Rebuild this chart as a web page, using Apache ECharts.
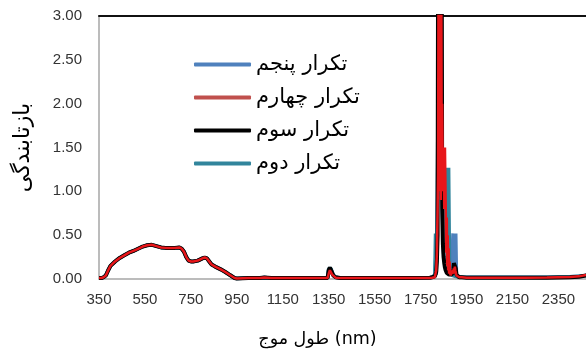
<!DOCTYPE html>
<html>
<head>
<meta charset="utf-8">
<script src="https://cdn.jsdelivr.net/npm/echarts@6/dist/echarts.min.js"></script>
<style>html,body{margin:0;padding:0;background:#fff}#c{width:586px;height:354px}</style>
</head>
<body>
<div id="c"></div>
<script>
// wavelength (nm)
const wavelengths = [
  350,360,370,380,390,400,420,440,460,480,500,520,540,560,580,600,620,640,660,680,
  700,710,720,730,740,750,760,780,800,810,820,830,840,850,860,880,900,920,940,950,
  1000,1050,1070,1100,1200,1300,1345,1350,1355,1360,1365,1370,1380,1400,1500,1600,1700,1790,1800,1806,
  1812,1815,1818,1821,1824,1826,1828,1830,1832,1834,1836,1838,1840,1842,1844,1847,1850,1853,1856,1859,
  1862,1864,1866,1868,1870,1872,1874,1876,1880,1885,1888,1891,1893,1895,1897,1899,1901,1903,1906,1910,
  1918,1930,
  1950,2000,2100,2200,2300,2400,2440,2470,2500
];
const xTicks = [350,550,750,950,1150,1350,1550,1750,1950,2150,2350];
const yTicks = [0,0.5,1,1.5,2,2.5,3];
const seriesNames = ['تکرار پنجم','تکرار چهارم','تکرار سوم','تکرار دوم'];

// تکرار پنجم (blue)
const rep5 = [
  0.01,0.01,0.02,0.045,0.1,0.15,0.2,0.24,0.27,0.3,0.32,0.345,0.37,0.385,0.39,0.375,0.36,0.355,0.355,0.355,
  0.36,0.345,0.31,0.25,0.21,0.2,0.2,0.21,0.235,0.245,0.235,0.2,0.165,0.15,0.135,0.11,0.08,0.045,0.012,0.006,
  0.01,0.012,0.018,0.012,0.01,0.01,0.012,0.11,0.13,0.115,0.07,0.04,0.02,0.012,0.01,0.01,0.012,0.015,0.02,0.025,
  0.03,0.2,0.4,0.5,1.0,2.0,2.0,2.0,2.0,2.0,2.0,2.0,2.0,2.0,2.0,0.5,0.3,0.2,0.2,0.2,
  0.2,0.2,0.2,0.2,0.2,0.2,0.2,0.2,0.1,0.06,0.05,0.52,0.05,0.52,0.05,0.52,0.05,0.52,0.04,0.03,
  0.025,0.02,
  0.02,0.02,0.02,0.02,0.02,0.025,0.03,0.04,0.05
];
// تکرار چهارم (red)
const rep4 = [
  0.01,0.01,0.02,0.04,0.1,0.15,0.2,0.24,0.27,0.3,0.32,0.345,0.37,0.385,0.39,0.375,0.36,0.355,0.355,0.355,
  0.36,0.345,0.31,0.25,0.21,0.2,0.2,0.21,0.235,0.245,0.235,0.2,0.165,0.15,0.135,0.11,0.08,0.045,0.012,0.005,
  0.01,0.012,0.016,0.012,0.01,0.01,0.01,0.06,0.1,0.09,0.05,0.03,0.015,0.01,0.01,0.01,0.01,0.012,0.015,0.02,
  0.02,0.04,0.1,0.3,0.8,1.2,3.5,1.0,3.5,1.3,3.5,0.9,3.5,1.2,2.0,1.0,1.5,0.8,1.5,1.5,
  0.3,0.7,0.15,0.5,0.1,0.35,0.06,0.2,0.04,0.04,0.06,0.1,0.06,0.12,0.08,0.14,0.1,0.08,0.04,0.03,
  0.02,0.02,
  0.015,0.015,0.015,0.015,0.018,0.022,0.03,0.045,0.055
];
// تکرار سوم (black)
const rep3 = [
  0.01,0.01,0.02,0.04,0.1,0.15,0.2,0.24,0.27,0.3,0.32,0.345,0.37,0.385,0.39,0.375,0.36,0.355,0.355,0.355,
  0.36,0.345,0.31,0.25,0.21,0.2,0.2,0.21,0.235,0.245,0.235,0.2,0.165,0.15,0.135,0.11,0.08,0.045,0.012,0.005,
  0.01,0.012,0.018,0.012,0.01,0.01,0.012,0.1,0.13,0.12,0.07,0.04,0.02,0.012,0.01,0.01,0.012,0.015,0.02,0.02,
  0.03,0.04,0.08,0.2,0.5,3.5,1.5,3.5,2.0,3.5,1.5,3.5,2.2,3.5,0.8,0.4,0.25,0.18,0.13,0.1,
  0.08,0.07,0.06,0.06,0.05,0.05,0.05,0.05,0.05,0.05,0.06,0.08,0.12,0.18,0.2,0.2,0.18,0.12,0.05,0.03,
  0.02,0.02,
  0.015,0.015,0.015,0.015,0.015,0.02,0.025,0.04,0.05
];
// تکرار دوم (teal)
const rep2 = [
  0.01,0.01,0.02,0.045,0.1,0.15,0.2,0.24,0.27,0.3,0.32,0.345,0.37,0.385,0.39,0.375,0.36,0.355,0.355,0.355,
  0.36,0.345,0.31,0.25,0.21,0.2,0.2,0.21,0.235,0.245,0.235,0.2,0.165,0.15,0.135,0.11,0.08,0.045,0.012,0.006,
  0.01,0.012,0.018,0.012,0.01,0.01,0.012,0.12,0.135,0.12,0.08,0.045,0.02,0.012,0.01,0.01,0.012,0.015,0.02,0.03,
  0.05,0.52,0.05,0.52,0.52,2.0,2.0,2.0,2.0,2.0,2.0,2.0,2.0,2.0,1.5,1.4,1.3,1.27,1.27,0.6,
  0.4,1.27,0.4,1.27,0.4,1.27,1.27,0.1,0.06,0.05,0.05,0.04,0.04,0.04,0.03,0.03,0.03,0.03,0.025,0.025,
  0.02,0.02,
  0.02,0.02,0.02,0.02,0.02,0.025,0.03,0.04,0.05
];

const pairs = vals => wavelengths.map((w, i) => [w, vals[i]]);
const FONT = '"Liberation Sans", Arial, sans-serif';
const AR_FONT = '"DejaVu Sans", sans-serif';

const chart = echarts.init(document.getElementById('c'), null, {renderer: 'canvas'});
const mk = (name, vals, color, width, z) => ({
  name, type: 'line', data: pairs(vals), symbol: 'none', showSymbol: false,
  lineStyle: {color, width}, itemStyle: {color}, z, clip: true, animation: false
});
chart.setOption({
  animation: false,
  grid: {left: 99, top: 16, right: 0, bottom: 75, containLabel: false, outerBoundsMode: 'none'},
  legend: {
    orient: 'vertical', left: 194, top: 54, padding: 0,
    itemWidth: 57, itemHeight: 4, itemGap: 12,
    icon: 'roundRect',
    textStyle: {fontFamily: AR_FONT, fontSize: 21, lineHeight: 20, color: '#000'},
    data: [
      {name: seriesNames[0], itemStyle: {color: '#4F81BD'}},
      {name: seriesNames[1], itemStyle: {color: '#C0504D'}},
      {name: seriesNames[2], itemStyle: {color: '#000000'}},
      {name: seriesNames[3], itemStyle: {color: '#31859C'}}
    ]
  },
  xAxis: [{
    type: 'value', min: 350, max: 2470, interval: 200,
    name: 'طول موج (nm)', nameLocation: 'middle', nameGap: 51,
    nameTextStyle: {fontFamily: AR_FONT, fontSize: 17.5, color: '#000', padding: [0, 50, 0, 0]},
    axisLine: {show: true, lineStyle: {color: '#A6A6A6', width: 1.5}},
    axisTick: {show: false}, splitLine: {show: false},
    axisLabel: {fontFamily: FONT, fontSize: 15, color: '#333', margin: 13,
      showMaxLabel: false,
      formatter: v => xTicks.includes(v) ? String(v) : ''}
  }, {
    type: 'value', min: 350, max: 2470, position: 'top',
    axisLine: {show: true, onZero: false, lineStyle: {color: '#111', width: 2}},
    axisTick: {show: false}, axisLabel: {show: false}, splitLine: {show: false}
  }],
  yAxis: {
    type: 'value', min: 0, max: 3, interval: 0.5,
    name: 'بازتابندگی', nameLocation: 'middle', nameGap: 65, nameRotate: 90,
    nameTextStyle: {fontFamily: AR_FONT, fontSize: 22, color: '#000'},
    axisLine: {show: true, lineStyle: {color: '#A6A6A6', width: 1.5}},
    axisTick: {show: false}, splitLine: {show: false},
    axisLabel: {fontFamily: FONT, fontSize: 15, color: '#333', margin: 17,
      formatter: v => yTicks.includes(v) ? v.toFixed(2) : ''}
  },
  series: [
    mk(seriesNames[0], rep5, '#4F81BD', 3.5, 2),
    mk(seriesNames[3], rep2, '#31859C', 3.5, 3),
    mk(seriesNames[2], rep3, '#000000', 4, 4),
    mk(seriesNames[1], rep4, '#E8161A', 2.5, 5)
  ]
});
</script>
</body>
</html>
